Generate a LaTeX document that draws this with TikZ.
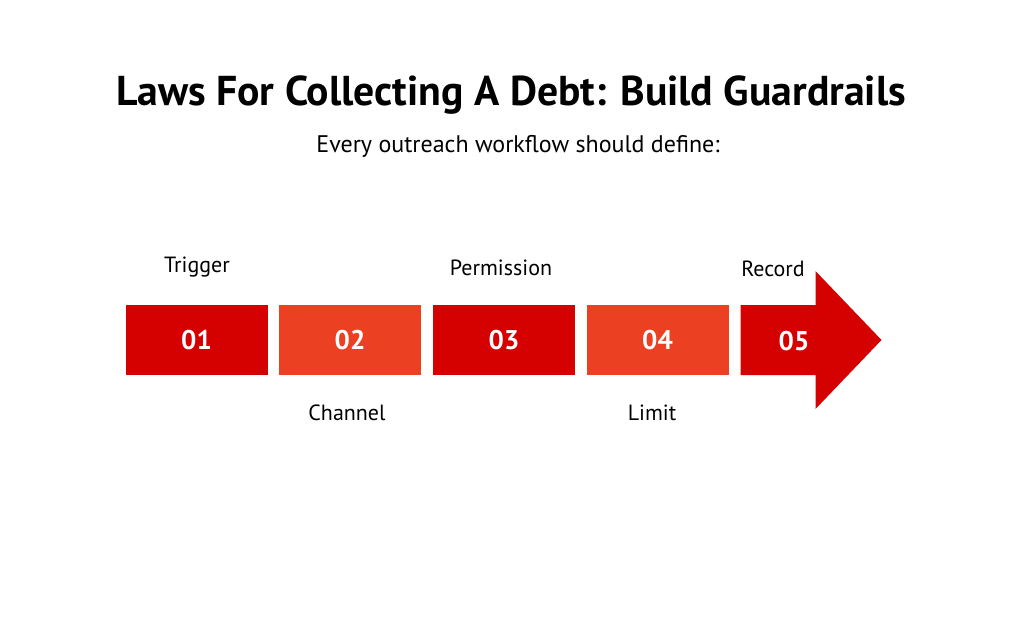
\documentclass[tikz,border=0pt]{standalone}
\usepackage{fontspec}
\setmainfont{PT Sans}
\definecolor{dred}{HTML}{D50000}
\definecolor{ored}{HTML}{EB4122}
\begin{document}
\begin{tikzpicture}[x=1pt,y=-1pt,
  stepbox/.style={minimum width=142pt,minimum height=70pt,inner sep=0pt,draw=none,text=white,font=\fontsize{27}{31}\selectfont\bfseries},
  lbl/.style={font=\fontsize{22}{26}\selectfont,text=black,inner sep=0pt}]
\useasboundingbox (0,0) rectangle (1012,618);
\node[font=\fontsize{41.7}{48}\selectfont\bfseries] (title) at (511,95) {Laws For Collecting A Debt: Build Guardrails};
\node[font=\fontsize{24}{28}\selectfont] (sub) at (518,146) {Every outreach workflow should define:};
\node[stepbox,fill=dred] (b1) at (196.5,340) {01};
\node[stepbox,fill=ored] (b2) at (350,340) {02};
\node[stepbox,fill=dred] (b3) at (504,340) {03};
\node[stepbox,fill=ored] (b4) at (657.5,340) {04};
\fill[dred] (740.5,305) -- (815.5,305) -- (815.5,271) -- (881.5,340) -- (815.5,409) -- (815.5,375) -- (740.5,375) -- cycle;
\node[text=white,font=\fontsize{27}{31}\selectfont\bfseries] (b5) at (794,341) {05};
\node[lbl] (l1) at (197,267) {Trigger};
\node[lbl] (l2) at (347,413) {Channel};
\node[lbl] (l3) at (501,268) {Permission};
\node[lbl] (l4) at (652,413) {Limit};
\node[lbl] (l5) at (773,269) {Record};
\end{tikzpicture}
\end{document}
